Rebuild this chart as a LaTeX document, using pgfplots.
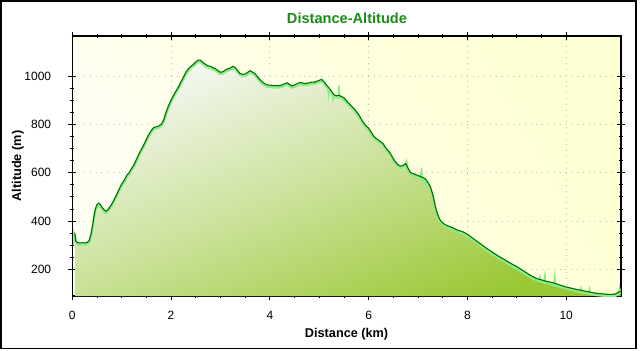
\documentclass[border=0pt]{standalone}
\usepackage{pgfplots}
\pgfplotsset{compat=1.18}
\usepackage{pgfplotstable}
\usepackage{fontspec}
\setmainfont{Liberation Sans}
\definecolor{bgL}{RGB}{255,255,242}
\definecolor{bgR}{RGB}{255,255,212}
\definecolor{fillLight}{RGB}{244,247,240}
\definecolor{fillMid}{RGB}{202,225,152}
\definecolor{fillDark}{RGB}{154,200,52}
\definecolor{lineDark}{RGB}{0,112,0}
\definecolor{lineLight}{RGB}{140,235,140}
\definecolor{titleGreen}{RGB}{26,140,26}
\definecolor{gridGray}{RGB}{190,190,190}

\pgfplotstableread{
x y
0.05 352
0.07 318
0.10 311
0.15 309
0.20 310
0.25 309
0.30 311
0.34 318
0.38 345
0.41 380
0.44 420
0.47 452
0.50 468
0.53 474
0.56 470
0.60 458
0.64 447
0.68 440
0.72 446
0.76 458
0.80 470
0.85 490
0.90 510
0.95 532
1.00 553
1.05 568
1.10 588
1.15 600
1.20 617
1.25 633
1.30 655
1.35 678
1.40 697
1.45 716
1.50 738
1.55 758
1.60 775
1.65 787
1.70 790
1.75 793
1.80 800
1.85 818
1.90 850
1.95 878
2.00 900
2.05 920
2.10 938
2.15 955
2.20 975
2.25 995
2.30 1015
2.35 1030
2.40 1040
2.45 1048
2.50 1058
2.55 1066
2.60 1065
2.65 1055
2.70 1048
2.75 1042
2.80 1040
2.85 1034
2.90 1030
2.95 1022
3.00 1015
3.05 1018
3.10 1025
3.15 1030
3.20 1033
3.25 1040
3.30 1035
3.35 1022
3.40 1010
3.45 1007
3.50 1008
3.55 1015
3.60 1022
3.65 1016
3.70 1010
3.75 997
3.80 985
3.85 975
3.90 968
3.95 963
4.00 962
4.10 960
4.20 960
4.25 964
4.30 968
4.35 972
4.40 965
4.45 959
4.50 963
4.55 968
4.60 973
4.65 972
4.70 969
4.75 970
4.80 972
4.85 975
4.90 974
4.95 978
5.00 982
5.05 986
5.10 975
5.15 962
5.20 950
5.25 936
5.30 922
5.35 918
5.40 920
5.45 915
5.50 910
5.55 898
5.60 887
5.65 876
5.70 866
5.75 853
5.80 840
5.85 822
5.90 806
5.95 793
6.00 784
6.05 768
6.10 752
6.15 742
6.20 735
6.25 727
6.30 718
6.35 702
6.40 690
6.45 676
6.50 657
6.55 643
6.60 632
6.65 627
6.70 630
6.75 638
6.80 617
6.85 600
6.90 596
6.95 592
7.00 588
7.05 584
7.10 580
7.15 574
7.20 560
7.25 542
7.30 508
7.35 460
7.40 425
7.45 403
7.50 392
7.55 385
7.60 380
7.70 372
7.80 362
7.90 356
8.00 345
8.10 330
8.20 315
8.30 300
8.40 285
8.50 272
8.60 258
8.70 246
8.80 234
8.90 222
9.00 211
9.10 198
9.20 185
9.30 172
9.40 162
9.50 156
9.60 150
9.70 146
9.80 140
9.90 133
10.00 127
10.10 122
10.20 117
10.30 113
10.40 109
10.50 105
10.60 101
10.70 99
10.80 97
10.90 96
11.00 98
11.05 104
11.10 110
}\profile

\begin{document}
\begin{tikzpicture}[x=1bp,y=1bp]
\useasboundingbox (0,0) rectangle (640,350);
\begin{axis}[
  at={(72.3bp,54bp)}, anchor=south west,
  scale only axis, width=548.7bp, height=260bp,
  xmin=0, xmax=11.11, ymin=89.5, ymax=1165.6,
  xtick={0,2,...,10}, ytick={200,400,...,1000},
  minor x tick num=3, minor y tick num=3,
  tick align=center, major tick length=8bp, minor tick length=4bp,
  tick style={black, line width=0.8bp},
  axis line style={black, line width=1.2bp},
  grid=major,
  major grid style={draw=gridGray, line width=0.8bp, dash pattern=on 0.8bp off 5bp},
  axis background/.style={shade, left color=bgL, right color=bgR, shading angle=120},
  /pgf/number format/assume math mode=true,
  /pgf/number format/1000 sep={},
  ticklabel style={font=\fontsize{12bp}{14bp}\selectfont, inner sep=0pt},
  yticklabel style={xshift=-17bp},
  xticklabel style={yshift=-11bp},
  clip=true,
]
\addplot[draw=none, top color=fillLight, bottom color=fillDark, middle color=fillMid, shading angle=22] table[x=x,y=y] {\profile} \closedcycle;
\addplot[lineLight, line width=2.4bp] table[x=x, y expr=\thisrow{y}-7] {\profile};
\addplot[lineLight, line width=1.2bp] coordinates {(0.03,300) (0.03,352) (0.06,330)};
\addplot[lineLight, line width=1.2bp] coordinates {(5.17,950) (5.19,915) (5.21,944)};
\addplot[lineLight, line width=1.2bp] coordinates {(5.26,930) (5.28,898) (5.30,915)};
\addplot[lineLight, line width=1.2bp] coordinates {(5.38,917) (5.40,962) (5.42,915)};
\addplot[lineLight, line width=1.2bp] coordinates {(6.74,630) (6.77,650) (6.80,612)};
\addplot[lineLight, line width=1.2bp] coordinates {(7.05,580) (7.07,622) (7.09,577)};
\addplot[lineLight, line width=1.2bp] coordinates {(7.13,572) (7.15,538) (7.17,566)};
\addplot[lineLight, line width=1.2bp] coordinates {(9.45,155) (9.47,172) (9.49,153)};
\addplot[lineLight, line width=1.2bp] coordinates {(9.55,152) (9.57,182) (9.59,148)};
\addplot[lineLight, line width=1.2bp] coordinates {(9.75,142) (9.77,178) (9.79,139)};
\addplot[lineLight, line width=1.2bp] coordinates {(10.28,112) (10.30,126) (10.32,110)};
\addplot[lineLight, line width=1.2bp] coordinates {(10.45,106) (10.47,122) (10.49,104)};
\addplot[lineLight, line width=1.2bp] coordinates {(11.06,102) (11.08,125) (11.10,108)};
\addplot[lineDark, line width=1.1bp] table[x=x,y=y] {\profile};
\end{axis}
\node[anchor=base, text=titleGreen, font=\fontsize{14.6bp}{17bp}\selectfont\bfseries] at (347,326.7) {Distance-Altitude};
\node[anchor=base, font=\fontsize{12.7bp}{15bp}\selectfont\bfseries] at (346.6,13) {Distance (km)};
\node[anchor=base, rotate=90, font=\fontsize{12.7bp}{15bp}\selectfont\bfseries] at (21,184) {Altitude (m)};
\draw[line width=1.6bp] (1,1.5) rectangle (636,349.2);
\end{tikzpicture}
\end{document}
